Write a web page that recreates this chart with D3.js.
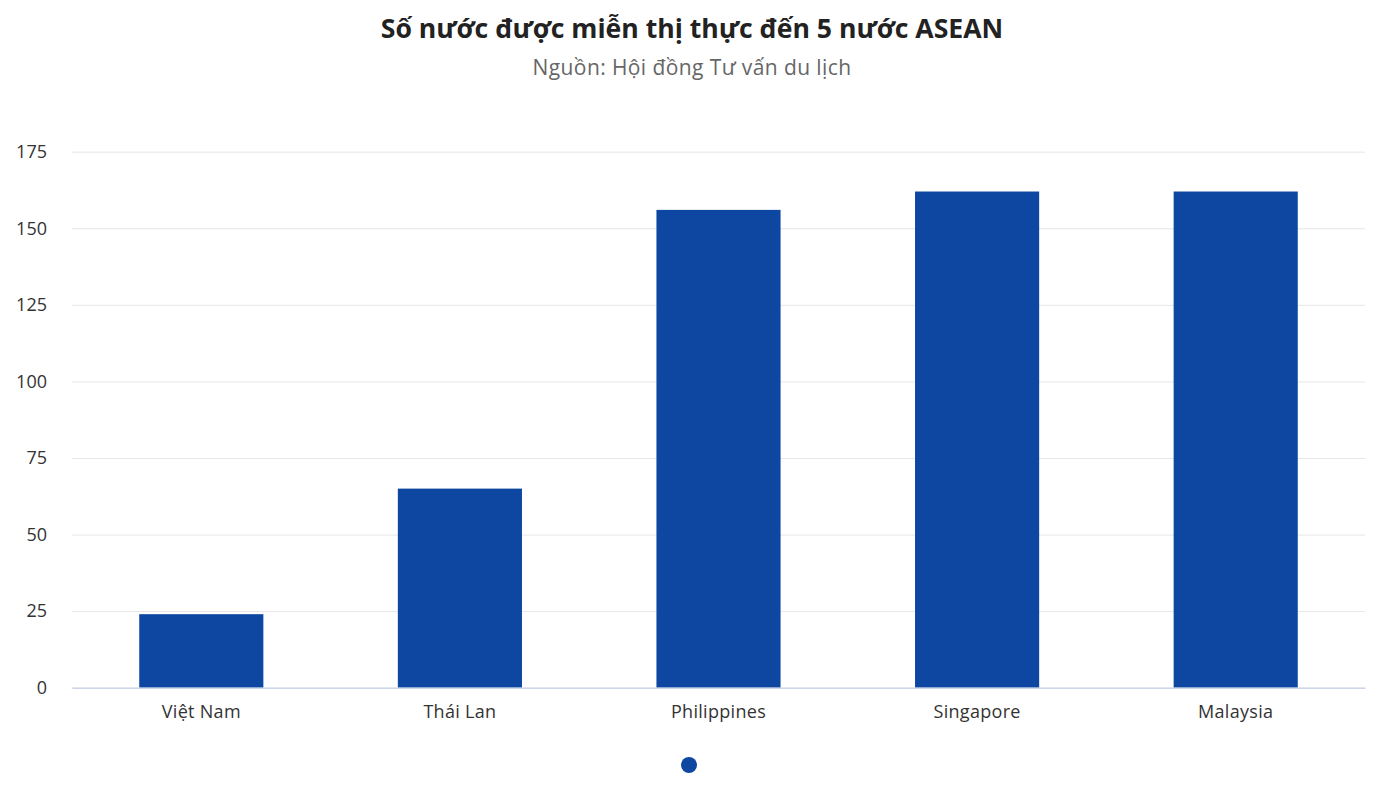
<!DOCTYPE html>
<html><head><meta charset="utf-8">
<script src="https://cdn.jsdelivr.net/npm/d3@7"></script>
<style>body{margin:0;background:#fff;} svg{display:block;font-family:"Open Sans","Noto Sans",sans-serif;}</style>
</head><body><svg id="c" width="1390" height="785"></svg>
<script>
const categories = ["Việt Nam", "Thái Lan", "Philippines", "Singapore", "Malaysia"];
const values = [24, 65, 156, 162, 162];
const yTicks = [0, 25, 50, 75, 100, 125, 150, 175];
const title = "Số nước được miễn thị thực đến 5 nước ASEAN";
const subtitle = "Nguồn: Hội đồng Tư vấn du lịch";

const svg = d3.select("#c");
const plotLeft = 72, plotRight = 1365, plotTop = 151.7, plotBottom = 687.7;
const x = d3.scaleBand().domain(categories).range([plotLeft, plotRight]).padding(0);
const y = d3.scaleLinear().domain([0, 175]).range([plotBottom, plotTop]);
const font = "'Open Sans', sans-serif";

svg.append("text").attr("x", 692).attr("y", 38).attr("text-anchor", "middle")
  .attr("font-size", 26.6).attr("font-weight", 700).attr("fill", "#222").text(title);
svg.append("text").attr("x", 692).attr("y", 75).attr("text-anchor", "middle")
  .attr("font-size", 21).attr("letter-spacing", 0.4).attr("fill", "#666").text(subtitle);

const yAxis = d3.axisLeft(y).tickValues(yTicks).tickSize(-(plotRight - plotLeft)).tickPadding(25);
const gy = svg.append("g").attr("transform", `translate(${plotLeft},0)`).call(yAxis);
gy.select(".domain").remove();
gy.selectAll(".tick line").attr("stroke", "#e6e6e6").attr("stroke-width", 1);
gy.selectAll(".tick text").attr("font-size", 18).attr("fill", "#333").attr("font-family", font);

const bw = x.bandwidth() * 0.48;
svg.append("g").selectAll("rect").data(values).join("rect")
  .attr("x", (d, i) => x(categories[i]) + (x.bandwidth() - bw) / 2)
  .attr("y", d => y(d))
  .attr("width", bw)
  .attr("height", d => plotBottom - y(d))
  .attr("fill", "#0d47a1");

const xAxis = d3.axisBottom(x).tickSize(0).tickPadding(18);
const gx = svg.append("g").attr("transform", `translate(0,${plotBottom})`).call(xAxis);
gx.select(".domain").attr("stroke", "#ccd6eb").attr("stroke-width", 1.5);
gx.selectAll(".tick text").attr("font-size", 18).attr("letter-spacing", 0.3).attr("fill", "#333").attr("font-family", font);

svg.append("circle").attr("cx", 689).attr("cy", 765).attr("r", 8).attr("fill", "#0d47a1");
</script></body></html>
